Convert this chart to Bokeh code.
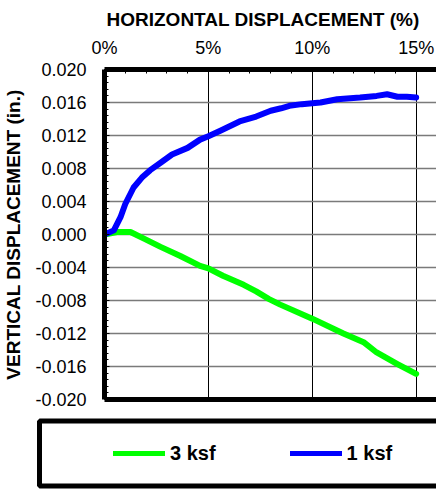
from bokeh.plotting import figure
from bokeh.layouts import column
from bokeh.models import (Range1d, FixedTicker, PrintfTickFormatter, LinearAxis,
                          Legend, LegendItem)
from bokeh.embed import file_html
from bokeh.resources import INLINE

# Horizontal displacement (%) vs vertical displacement (in.)
h_3ksf = [0, 0.6, 1.25, 1.9, 2.7, 3.65, 4.6, 5.0, 5.7, 6.7, 7.3, 7.9, 8.46,
          10.0, 11.5, 12.5, 13.1, 14.1, 15.0]
v_3ksf = [0, 0.0003, 0.0003, -0.0005, -0.0015, -0.0026, -0.0038, -0.0041,
          -0.0050, -0.0061, -0.0069, -0.0078, -0.0085, -0.0102, -0.0120,
          -0.0131, -0.0143, -0.0157, -0.0169]

h_1ksf = [0, 0.45, 0.77, 1.0, 1.4, 1.8, 2.2, 2.7, 3.25, 4.0, 4.6, 5.0, 5.6,
          6.5, 7.3, 8.0, 8.5, 8.9, 9.5, 10.0, 10.4, 11.2, 12.3, 13.1, 13.6,
          14.1, 14.55, 15.0]
v_1ksf = [0, 0.0005, 0.0021, 0.0037, 0.0057, 0.0069, 0.0078, 0.0087, 0.0097,
          0.0105, 0.0115, 0.0119, 0.0126, 0.0137, 0.0143, 0.0150, 0.0153,
          0.0156, 0.0158, 0.0159, 0.0160, 0.0164, 0.0166, 0.0168, 0.0170,
          0.0167, 0.0167, 0.0166]

series_labels = ["3 ksf", "1 ksf"]
x_ticks = [0, 5, 10, 15]
y_ticks = [-0.020, -0.016, -0.012, -0.008, -0.004, 0.000,
           0.004, 0.008, 0.012, 0.016, 0.020]

FONT = "Liberation Sans"
GREEN = "#00FF00"
BLUE = "#0000FF"

p = figure(width=436, height=412, output_backend="svg", toolbar_location=None,
           x_range=Range1d(0, 15.98), y_range=Range1d(-0.020, 0.020),
           x_axis_location="above",
           min_border_left=104, min_border_right=0, min_border_top=69,
           min_border_bottom=13)
p.frame_align = False
p.outline_line_color = None
p.background_fill_color = "white"

# title placed over the top axis
p.title.text = "HORIZONTAL DISPLACEMENT (%)"
p.title.align = "left"
p.title.offset = 2
p.title.text_font = FONT
p.title.text_font_size = "19px"
p.title.text_font_style = "bold"
p.title.text_color = "black"

# top axis
xa = p.xaxis[0]
xa.ticker = FixedTicker(ticks=x_ticks, minor_ticks=list(range(0, 16)))
xa.formatter = PrintfTickFormatter(format="%d%%")
xa.axis_line_width = 5
xa.axis_line_color = "black"
xa.major_tick_in = 5
xa.major_tick_out = 0
xa.minor_tick_in = 4
xa.minor_tick_out = 0
xa.major_tick_line_color = "black"
xa.minor_tick_line_color = "black"
xa.major_label_standoff = 12
xa.major_label_text_font = FONT
xa.major_label_text_font_size = "18px"
xa.major_label_text_color = "black"

# left axis
ya = p.yaxis[0]
ya.ticker = FixedTicker(ticks=y_ticks,
                        minor_ticks=[round(-0.020 + 0.0008 * i, 4) for i in range(51)])
ya.formatter = PrintfTickFormatter(format="%.3f")
ya.axis_line_width = 5
ya.axis_line_color = "black"
ya.major_tick_in = 5
ya.major_tick_out = 0
ya.minor_tick_in = 4
ya.minor_tick_out = 0
ya.major_tick_line_color = "black"
ya.minor_tick_line_color = "black"
ya.major_label_standoff = 18
ya.major_label_text_font = FONT
ya.major_label_text_font_size = "18px"
ya.major_label_text_color = "black"
ya.axis_label = "VERTICAL DISPLACEMENT (in.)"
ya.axis_label_text_font = FONT
ya.axis_label_text_font_size = "19px"
ya.axis_label_text_font_style = "bold"
ya.axis_label_text_color = "black"
ya.axis_label_standoff = 8

# bottom border drawn as a bare axis line
bottom = LinearAxis(ticker=FixedTicker(ticks=[]), axis_line_width=5,
                    axis_line_color="black", major_tick_out=0, minor_tick_out=0,
                    major_label_standoff=0, major_label_text_font_size="0px")
p.add_layout(bottom, "below")

p.xgrid.grid_line_color = "black"
p.xgrid.grid_line_width = 1
p.ygrid.grid_line_color = "#7a7a7a"
p.ygrid.grid_line_width = 1.3

p.line(h_3ksf, v_3ksf, line_color=GREEN, line_width=6,
       line_join="round", line_cap="round")
p.line(h_1ksf, v_1ksf, line_color=BLUE, line_width=6,
       line_join="round", line_cap="round")

# legend panel: its plot area is the whole canvas, data units = pixels from top-left
leg = figure(width=436, height=77, output_backend="svg", toolbar_location=None,
             x_range=Range1d(0, 436), y_range=Range1d(77, 0), min_border=0,
             x_axis_location=None, y_axis_location=None)
leg.frame_align = False
leg.grid.visible = False
leg.outline_line_color = None
leg.quad(left=[39], right=[480], top=[8.5], bottom=[73.5], fill_color=None,
         line_color="black", line_width=5)
# hidden copies of the series supply the legend swatches
g3 = leg.line(h_3ksf, v_3ksf, line_color=GREEN, line_width=5, line_cap="round",
              visible=False)
g1 = leg.line(h_1ksf, v_1ksf, line_color=BLUE, line_width=5, line_cap="round",
              visible=False)
legend = Legend(items=[LegendItem(label=series_labels[0], renderers=[g3]),
                       LegendItem(label=series_labels[1], renderers=[g1])],
                location=(113, 24), orientation="horizontal",
                glyph_width=52, glyph_height=24, label_height=24,
                label_standoff=5, spacing=74, padding=0, margin=0,
                border_line_color=None, background_fill_alpha=0,
                label_text_font=FONT, label_text_font_size="20px",
                label_text_font_style="bold", label_text_color="black")
leg.add_layout(legend)

layout = column(p, leg, spacing=0)
open("out.html", "w").write(file_html(layout, INLINE))
